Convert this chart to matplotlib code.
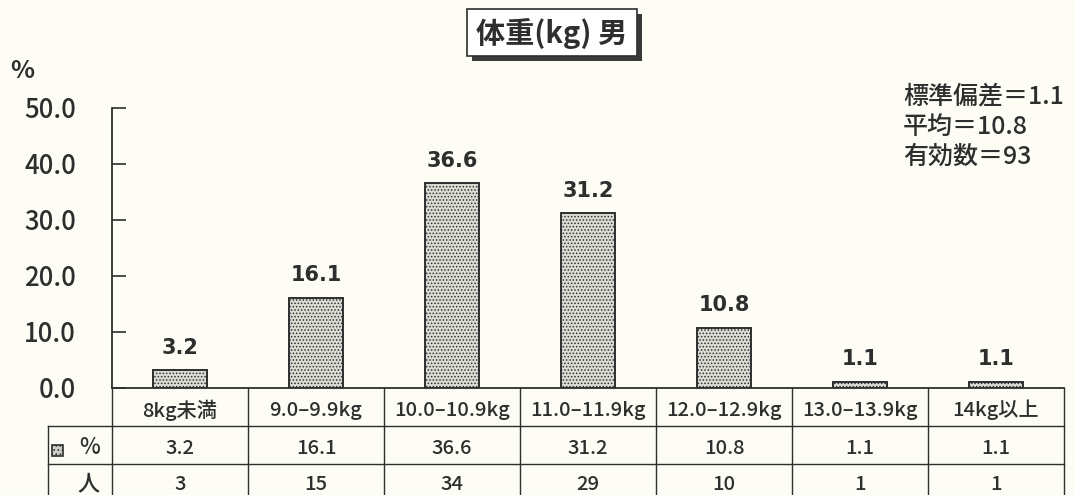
import matplotlib
matplotlib.use('Agg')
import matplotlib.pyplot as plt
from matplotlib.patches import Rectangle

categories = ['8kg未満', '9.0–9.9kg', '10.0–10.9kg', '11.0–11.9kg',
              '12.0–12.9kg', '13.0–13.9kg', '14kg以上']
percent = [3.2, 16.1, 36.6, 31.2, 10.8, 1.1, 1.1]
counts = [3, 15, 34, 29, 10, 1, 1]
yticks = [0, 10, 20, 30, 40, 50]
title = '体重(kg) 男'
stats = ['標準偏差＝1.1', '平均＝10.8', '有効数＝93']
row_labels = ['%', '人']

plt.rcParams['font.family'] = ['Noto Sans CJK JP', 'DejaVu Sans']
plt.rcParams['hatch.linewidth'] = 0.7

BG = '#fdfdf5'
INK = '#2e2e2e'
W, H = 1074, 495
fig = plt.figure(figsize=(W / 100, H / 100), dpi=100, facecolor=BG)


def fx(px):
    return px / W


def fy(py):
    return 1 - py / H


Y0, Y50 = 388, 108
ax = fig.add_axes([fx(112), fy(Y0), fx(1064) - fx(112), fy(Y50) - fy(Y0)])
ax.set_facecolor('none')
ax.set_xlim(-0.5, len(categories) - 0.5)
ax.set_ylim(0, 50)

x = list(range(len(categories)))
ax.bar(x, percent, width=0.39, facecolor='#dcdcd4', edgecolor=INK,
       hatch='.....', linewidth=1.4, zorder=3)
for i, v in zip(x, percent):
    ax.annotate(f'{v:.1f}', (i, v), xytext=(0, 9), textcoords='offset points',
                ha='center', va='bottom', fontsize=15, fontweight='bold',
                family='DejaVu Sans', color=INK)

for s in ['top', 'right']:
    ax.spines[s].set_visible(False)
for s in ['left', 'bottom']:
    ax.spines[s].set_color(INK)
    ax.spines[s].set_linewidth(1.3)
ax.set_xticks([])
ax.set_yticks(yticks)
ax.set_yticklabels([f'{t:.1f}' for t in yticks], fontweight='medium')
ax.tick_params(axis='y', direction='in', length=10, width=1.2, pad=26,
               labelsize=18.5, colors=INK)

fig.text(fx(22), fy(71), '%', fontsize=18, fontweight='bold', color=INK,
         ha='center', va='center')

# table (x in data coords, y in axes fraction)
tr = ax.get_xaxis_transform()


def yaf(py):
    return (Y0 - py) / (Y0 - Y50)


left_x = -0.5 - (112 - 48) / 136.0
right_x = len(categories) - 0.5
bottom = yaf(500)
lkw = dict(color=INK, lw=1.0, transform=tr, clip_on=False)
for b in [i - 0.5 for i in range(len(categories) + 1)]:
    ax.plot([b, b], [0, bottom], **lkw)
ax.plot([left_x, left_x], [yaf(426), bottom], **lkw)
for py in [426, 464]:
    ax.plot([left_x, right_x], [yaf(py), yaf(py)], **lkw)

tkw = dict(transform=tr, ha='center', va='center', fontsize=14.5, color=INK,
           fontweight='medium', clip_on=False)
for i, c in enumerate(categories):
    ax.text(i, yaf(410), c, **tkw)
    ax.text(i, yaf(448), f'{percent[i]:.1f}', **tkw)
    ax.text(i, yaf(484), str(counts[i]), **tkw)

# row labels
fig.patches.append(Rectangle((fx(52), fy(456)), fx(63) - fx(52), fy(445) - fy(456),
                             facecolor='#d0d0c8', edgecolor=INK, hatch='....',
                             lw=1.2, transform=fig.transFigure))
fig.text(fx(90), fy(448), row_labels[0], fontsize=16, color=INK,
         fontweight='medium', ha='center', va='center')
fig.text(fx(89), fy(484), row_labels[1], fontsize=16, color=INK,
         fontweight='medium', ha='center', va='center')

# title box
fig.patches.append(Rectangle((fx(472), fy(61)), fx(642) - fx(472), fy(14) - fy(61),
                             facecolor='#3a3a3a', edgecolor='none',
                             transform=fig.transFigure))
fig.patches.append(Rectangle((fx(467), fy(56)), fx(637) - fx(467), fy(9) - fy(56),
                             facecolor='white', edgecolor=INK, lw=1.2,
                             transform=fig.transFigure))
fig.text(fx(552), fy(33), title, fontsize=21, fontweight='bold', color=INK,
         ha='center', va='center')

# stats
for py, s in zip([96, 127, 157], stats):
    fig.text(fx(903), fy(py), s, fontsize=18, fontweight='medium', color=INK,
             ha='left', va='center')

fig.savefig('out.png', dpi=100, facecolor=BG)
